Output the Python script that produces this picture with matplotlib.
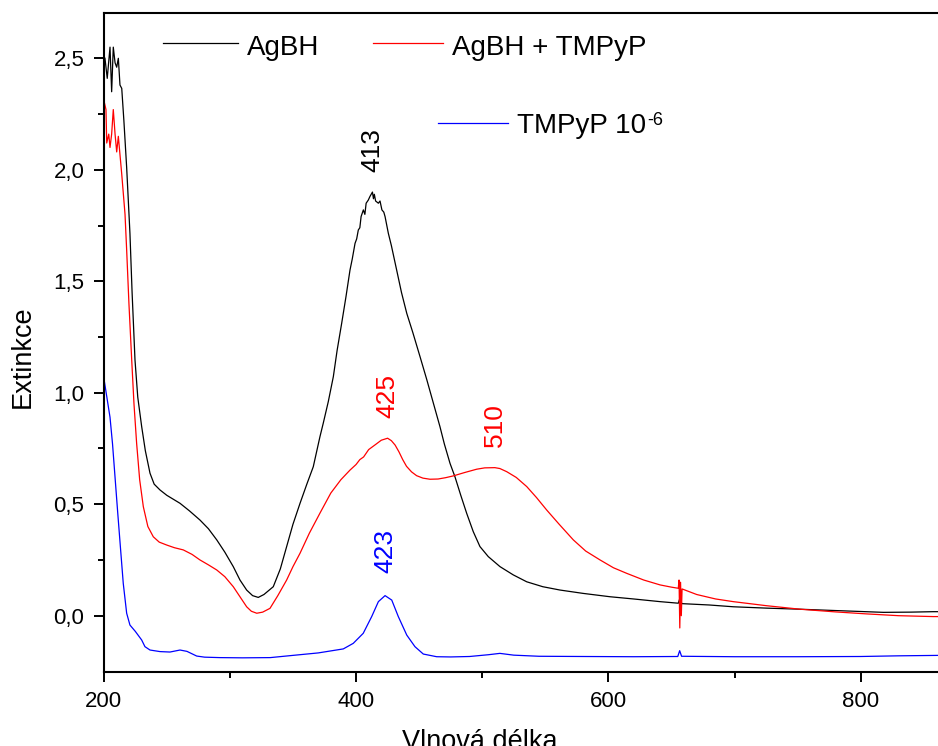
import matplotlib
matplotlib.use("Agg")
import matplotlib.pyplot as plt
from matplotlib.lines import Line2D

plt.rcParams['font.family'] = ['Liberation Sans', 'DejaVu Sans']

# --- spectra: wavelength (nm) and extinction ---
agbh_x = [200, 201, 202.8, 205, 206.3, 207.6, 209, 210.3, 211.6, 212.9, 214.3, 216, 218.2,
          220.8, 222.5, 224.8, 227, 230.1, 233, 236.7, 240, 244.6, 250, 260.5, 268, 276.3,
          283, 289.6, 296, 302.7, 308, 313.3, 318, 322.5, 327, 334.4, 340, 345, 350, 355.6,
          361, 366.1, 371.4, 374, 378, 382, 385, 388.6, 392, 395.2, 397, 399.2, 400.5, 401.8,
          403, 404, 405.8, 407, 408, 409.7, 411, 413, 413.8, 414.5, 415.5, 417.7, 419, 420.5,
          422, 423, 425.6, 428, 432.2, 436, 440.2, 445, 450.7, 456, 461.3, 466.5, 470, 474.5,
          478.4, 483, 487.7, 492.9, 498.2, 504.8, 514.1, 524.6, 535.3, 548, 561.7, 580, 601.3, 620,
          641, 655.4, 656.5, 657, 657.5, 658.5, 680, 699, 725, 752, 785, 818, 840, 857.5, 862]
agbh_y = [2.51, 2.50, 2.41, 2.55, 2.35, 2.55, 2.48, 2.46, 2.50, 2.38, 2.365, 2.22, 2.01,
          1.715, 1.45, 1.147, 0.98, 0.848, 0.74, 0.639, 0.59, 0.564, 0.54, 0.504, 0.47, 0.429,
          0.39, 0.34, 0.285, 0.22, 0.16, 0.115, 0.09, 0.082, 0.095, 0.13, 0.21, 0.31, 0.41, 0.504,
          0.59, 0.668, 0.803, 0.863, 0.96, 1.072, 1.19, 1.311, 1.43, 1.55, 1.60, 1.67, 1.69, 1.73,
          1.74, 1.79, 1.82, 1.80, 1.85, 1.864, 1.88, 1.90, 1.87, 1.89, 1.86, 1.85, 1.86, 1.82,
          1.81, 1.79, 1.715, 1.66, 1.55, 1.45, 1.356, 1.27, 1.162, 1.06, 0.953, 0.848, 0.77, 0.683,
          0.623, 0.54, 0.459, 0.377, 0.31, 0.265, 0.22, 0.183, 0.152, 0.13, 0.115, 0.10, 0.085, 0.075,
          0.063, 0.056, 0.075, 0.03, 0.06, 0.054, 0.048, 0.04, 0.034, 0.029, 0.022, 0.015, 0.016, 0.018, 0.018]

mix_x = [200.2, 201.8, 202.4, 204, 205, 206.3, 207.6, 209, 210.3, 211.6, 214.3, 216.9, 218.2,
         220, 222.2, 224, 226.1, 228.5, 231.4, 235, 239.3, 244, 249.9, 256, 263.1, 270, 276.3,
         283, 289.6, 296, 302.7, 308, 313.3, 317, 321.3, 326, 331.8, 338, 345, 350, 355.6, 363,
         371.4, 380, 388, 395.2, 400, 403, 406, 410, 416, 420, 425, 428, 431, 434, 437, 440,
         444, 448, 453, 458.6, 465, 471, 477.1, 486, 495.6, 502, 510, 514, 519.4, 527, 535.3,
         543, 551.1, 561, 572.2, 582, 593.4, 604, 614.5, 628, 641, 650, 655.4, 656, 656.6, 657.2,
         657.8, 658.4, 670, 685, 699, 725, 752, 780, 804.7, 830, 857.5, 862]
mix_y = [2.31, 2.27, 2.12, 2.16, 2.10, 2.16, 2.27, 2.16, 2.08, 2.15, 1.98, 1.80, 1.64,
         1.40, 1.147, 0.95, 0.773, 0.61, 0.489, 0.40, 0.354, 0.33, 0.317, 0.305, 0.295, 0.275, 0.25,
         0.228, 0.205, 0.175, 0.13, 0.085, 0.04, 0.02, 0.011, 0.016, 0.033, 0.09, 0.16, 0.22, 0.28, 0.37,
         0.46, 0.55, 0.61, 0.653, 0.678, 0.70, 0.712, 0.745, 0.77, 0.787, 0.796, 0.785, 0.765, 0.735, 0.70, 0.67,
         0.645, 0.628, 0.617, 0.612, 0.613, 0.619, 0.627, 0.642, 0.657, 0.663, 0.664, 0.66, 0.646, 0.62, 0.579,
         0.53, 0.474, 0.41, 0.34, 0.29, 0.25, 0.215, 0.19, 0.16, 0.138, 0.128, 0.123, 0.16, -0.055, 0.15,
         0.0, 0.12, 0.095, 0.075, 0.063, 0.045, 0.029, 0.017, 0.008, 0.0, -0.004, -0.004]

tmpyp_x = [200, 202.5, 205, 207, 209, 211, 213, 215.5, 218.2, 220.8, 225, 230.1, 232.7, 236.7,
           244.6, 252.5, 260.5, 266, 273.7, 280, 292, 310, 332, 350, 370, 389.9, 397.8, 405.7,
           412.4, 417.7, 423, 428.3, 433.5, 440.2, 446.7, 453.3, 463.9, 475,
           490, 505, 514, 525, 545, 580, 620, 655, 656.5, 658, 700, 750, 800, 830, 862]
tmpyp_y = [1.07, 0.98, 0.89, 0.77, 0.62, 0.47, 0.325, 0.145, 0.011, -0.042, -0.07, -0.109, -0.139, -0.154,
           -0.161, -0.163, -0.154, -0.16, -0.181, -0.186, -0.188, -0.189, -0.188, -0.178, -0.167, -0.149, -0.124, -0.079,
           -0.004, 0.063, 0.09, 0.07, -0.004, -0.087, -0.139, -0.172, -0.184, -0.185,
           -0.183, -0.175, -0.169, -0.177, -0.182, -0.183, -0.184, -0.183, -0.157, -0.182, -0.184, -0.184, -0.183, -0.180, -0.178]

series_names = ['AgBH', 'AgBH + TMPyP', 'TMPyP 10']
series_sup = ['', '', '-6']
series_colors = ['#000000', '#ff0000', '#0000ff']

# peak wavelengths and the curve each belongs to
peak_nm = [413, 425, 510, 423]
peak_series = [0, 1, 1, 2]
peak_label_y = [1.99, 0.885, 0.755, 0.19]

x_ticks = [200, 400, 600, 800]
x_minor = [300, 500, 700]
y_ticks = [0.0, 0.5, 1.0, 1.5, 2.0, 2.5]
y_tick_labels = ['0,0', '0,5', '1,0', '1,5', '2,0', '2,5']
y_minor = [0.25, 0.75, 1.25, 1.75, 2.25]

W, H = 938, 746
fig = plt.figure(figsize=(W / 100, H / 100), dpi=100)
ax = fig.add_axes([103.7 / W, 74.3 / H, 883.2 / W, 658.4 / H])

xs = [agbh_x, mix_x, tmpyp_x]
ys = [agbh_y, mix_y, tmpyp_y]
for x, y, c in zip(xs, ys, series_colors):
    ax.plot(x, y, color=c, lw=0.9, solid_joinstyle='round')

ax.set_xlim(200, 900)
ax.set_ylim(-0.2512, 2.7018)

ax.set_xticks(x_ticks)
ax.set_xticks(x_minor, minor=True)
ax.set_yticks(y_ticks)
ax.set_yticklabels(y_tick_labels)
ax.set_yticks(y_minor, minor=True)
ax.tick_params(axis='both', which='major', direction='out', length=7, width=1.4,
               labelsize=16, pad=7)
ax.tick_params(axis='both', which='minor', direction='out', length=4, width=1.4)
ax.tick_params(top=False, right=False)
for s in ax.spines.values():
    s.set_linewidth(1.5)

# peak annotations
for nm, si, ly in zip(peak_nm, peak_series, peak_label_y):
    ax.text(nm, ly, str(nm), rotation=90, ha='center', va='bottom',
            fontsize=19, color=series_colors[si])

# axis titles
fig.text(23 / W, 1 - 356.5 / H, 'Extinkce', rotation=90, ha='center', va='center', fontsize=19.5)
fig.text(480 / W, 1 - 729 / H, 'Vlnová délka', ha='center', va='top', fontsize=19.5)

# legend entries
legend_items = [
    (163, 238, 43.3, 247, 55),
    (373, 443, 43.3, 452, 55),
    (438, 508, 122.7, 517, 133),
]
fig.canvas.draw()
renderer = fig.canvas.get_renderer()
for (x0, x1, ly, tx, tb), name, sup, c in zip(legend_items, series_names, series_sup, series_colors):
    fig.add_artist(Line2D([x0 / W, x1 / W], [1 - ly / H, 1 - ly / H], color=c, lw=0.9,
                          transform=fig.transFigure))
    t = fig.text(tx / W, 1 - tb / H, name, ha='left', va='baseline', fontsize=20)
    if sup:
        bb = t.get_window_extent(renderer)
        fig.text((bb.x1 + 1) / W, 1 - 112 / H, sup, ha='left', va='top', fontsize=13)

fig.savefig('out.png', dpi=100)
